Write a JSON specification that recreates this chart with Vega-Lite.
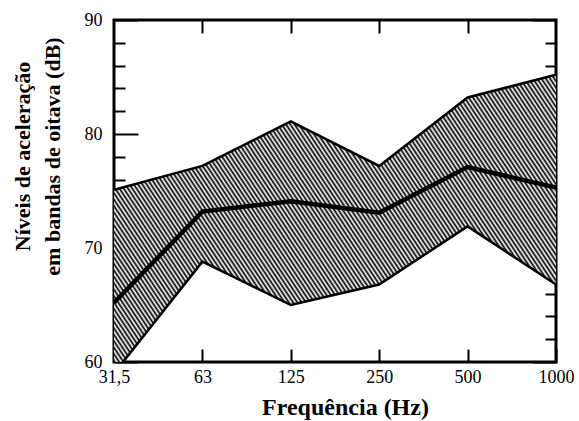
{
  "$schema": "https://vega.github.io/schema/vega-lite/v6.json",
  "width": 442,
  "height": 342,
  "autosize": "none",
  "padding": {"left": 114, "top": 20, "right": 23, "bottom": 59},
  "background": "white",
  "config": {
    "view": {"stroke": "black", "strokeWidth": 3},
    "axis": {"grid": false, "domain": false, "tickColor": "black", "tickWidth": 2, "labelColor": "black", "labelFont": "Liberation Serif", "labelFontSize": 18, "titleColor": "black", "titleFont": "Liberation Serif", "titleFontWeight": "bold"}
  },
  "data": {
    "values": [
      {"f": "31,5", "lo": 59, "mean": 65.2, "hi": 75.1},
      {"f": "63", "lo": 68.8, "mean": 73.2, "hi": 77.2},
      {"f": "125", "lo": 65.0, "mean": 74.1, "hi": 81.1},
      {"f": "250", "lo": 66.8, "mean": 73.1, "hi": 77.2},
      {"f": "500", "lo": 71.9, "mean": 77.1, "hi": 83.2},
      {"f": "1000", "lo": 66.8, "mean": 75.3, "hi": 85.2}
    ]
  },
  "resolve": {"axis": {"x": "independent", "y": "independent"}},
  "layer": [
    {
      "mark": {
        "type": "area",
        "clip": true,
        "stroke": null,
        "fill": {
          "gradient": "linear", "x1": 0, "y1": 1, "x2": 1.206, "y2": 0.46,
          "stops": [
{"offset":0,"color":"#000"},{"offset":0.0033,"color":"#fff"},{"offset":0.0067,"color":"#000"},
{"offset":0.01,"color":"#fff"},{"offset":0.0133,"color":"#000"},{"offset":0.0167,"color":"#fff"},
{"offset":0.02,"color":"#000"},{"offset":0.0233,"color":"#fff"},{"offset":0.0267,"color":"#000"},
{"offset":0.03,"color":"#fff"},{"offset":0.0333,"color":"#000"},{"offset":0.0367,"color":"#fff"},
{"offset":0.04,"color":"#000"},{"offset":0.0433,"color":"#fff"},{"offset":0.0467,"color":"#000"},
{"offset":0.05,"color":"#fff"},{"offset":0.0533,"color":"#000"},{"offset":0.0567,"color":"#fff"},
{"offset":0.06,"color":"#000"},{"offset":0.0633,"color":"#fff"},{"offset":0.0667,"color":"#000"},
{"offset":0.07,"color":"#fff"},{"offset":0.0733,"color":"#000"},{"offset":0.0767,"color":"#fff"},
{"offset":0.08,"color":"#000"},{"offset":0.0833,"color":"#fff"},{"offset":0.0867,"color":"#000"},
{"offset":0.09,"color":"#fff"},{"offset":0.0933,"color":"#000"},{"offset":0.0967,"color":"#fff"},
{"offset":0.10,"color":"#000"},{"offset":0.1033,"color":"#fff"},{"offset":0.1067,"color":"#000"},
{"offset":0.11,"color":"#fff"},{"offset":0.1133,"color":"#000"},{"offset":0.1167,"color":"#fff"},
{"offset":0.12,"color":"#000"},{"offset":0.1233,"color":"#fff"},{"offset":0.1267,"color":"#000"},
{"offset":0.13,"color":"#fff"},{"offset":0.1333,"color":"#000"},{"offset":0.1367,"color":"#fff"},
{"offset":0.14,"color":"#000"},{"offset":0.1433,"color":"#fff"},{"offset":0.1467,"color":"#000"},
{"offset":0.15,"color":"#fff"},{"offset":0.1533,"color":"#000"},{"offset":0.1567,"color":"#fff"},
{"offset":0.16,"color":"#000"},{"offset":0.1633,"color":"#fff"},{"offset":0.1667,"color":"#000"},
{"offset":0.17,"color":"#fff"},{"offset":0.1733,"color":"#000"},{"offset":0.1767,"color":"#fff"},
{"offset":0.18,"color":"#000"},{"offset":0.1833,"color":"#fff"},{"offset":0.1867,"color":"#000"},
{"offset":0.19,"color":"#fff"},{"offset":0.1933,"color":"#000"},{"offset":0.1967,"color":"#fff"},
{"offset":0.20,"color":"#000"},{"offset":0.2033,"color":"#fff"},{"offset":0.2067,"color":"#000"},
{"offset":0.21,"color":"#fff"},{"offset":0.2133,"color":"#000"},{"offset":0.2167,"color":"#fff"},
{"offset":0.22,"color":"#000"},{"offset":0.2233,"color":"#fff"},{"offset":0.2267,"color":"#000"},
{"offset":0.23,"color":"#fff"},{"offset":0.2333,"color":"#000"},{"offset":0.2367,"color":"#fff"},
{"offset":0.24,"color":"#000"},{"offset":0.2433,"color":"#fff"},{"offset":0.2467,"color":"#000"},
{"offset":0.25,"color":"#fff"},{"offset":0.2533,"color":"#000"},{"offset":0.2567,"color":"#fff"},
{"offset":0.26,"color":"#000"},{"offset":0.2633,"color":"#fff"},{"offset":0.2667,"color":"#000"},
{"offset":0.27,"color":"#fff"},{"offset":0.2733,"color":"#000"},{"offset":0.2767,"color":"#fff"},
{"offset":0.28,"color":"#000"},{"offset":0.2833,"color":"#fff"},{"offset":0.2867,"color":"#000"},
{"offset":0.29,"color":"#fff"},{"offset":0.2933,"color":"#000"},{"offset":0.2967,"color":"#fff"},
{"offset":0.30,"color":"#000"},{"offset":0.3033,"color":"#fff"},{"offset":0.3067,"color":"#000"},
{"offset":0.31,"color":"#fff"},{"offset":0.3133,"color":"#000"},{"offset":0.3167,"color":"#fff"},
{"offset":0.32,"color":"#000"},{"offset":0.3233,"color":"#fff"},{"offset":0.3267,"color":"#000"},
{"offset":0.33,"color":"#fff"},{"offset":0.3333,"color":"#000"},{"offset":0.3367,"color":"#fff"},
{"offset":0.34,"color":"#000"},{"offset":0.3433,"color":"#fff"},{"offset":0.3467,"color":"#000"},
{"offset":0.35,"color":"#fff"},{"offset":0.3533,"color":"#000"},{"offset":0.3567,"color":"#fff"},
{"offset":0.36,"color":"#000"},{"offset":0.3633,"color":"#fff"},{"offset":0.3667,"color":"#000"},
{"offset":0.37,"color":"#fff"},{"offset":0.3733,"color":"#000"},{"offset":0.3767,"color":"#fff"},
{"offset":0.38,"color":"#000"},{"offset":0.3833,"color":"#fff"},{"offset":0.3867,"color":"#000"},
{"offset":0.39,"color":"#fff"},{"offset":0.3933,"color":"#000"},{"offset":0.3967,"color":"#fff"},
{"offset":0.40,"color":"#000"},{"offset":0.4033,"color":"#fff"},{"offset":0.4067,"color":"#000"},
{"offset":0.41,"color":"#fff"},{"offset":0.4133,"color":"#000"},{"offset":0.4167,"color":"#fff"},
{"offset":0.42,"color":"#000"},{"offset":0.4233,"color":"#fff"},{"offset":0.4267,"color":"#000"},
{"offset":0.43,"color":"#fff"},{"offset":0.4333,"color":"#000"},{"offset":0.4367,"color":"#fff"},
{"offset":0.44,"color":"#000"},{"offset":0.4433,"color":"#fff"},{"offset":0.4467,"color":"#000"},
{"offset":0.45,"color":"#fff"},{"offset":0.4533,"color":"#000"},{"offset":0.4567,"color":"#fff"},
{"offset":0.46,"color":"#000"},{"offset":0.4633,"color":"#fff"},{"offset":0.4667,"color":"#000"},
{"offset":0.47,"color":"#fff"},{"offset":0.4733,"color":"#000"},{"offset":0.4767,"color":"#fff"},
{"offset":0.48,"color":"#000"},{"offset":0.4833,"color":"#fff"},{"offset":0.4867,"color":"#000"},
{"offset":0.49,"color":"#fff"},{"offset":0.4933,"color":"#000"},{"offset":0.4967,"color":"#fff"},
{"offset":0.50,"color":"#000"},{"offset":0.5033,"color":"#fff"},{"offset":0.5067,"color":"#000"},
{"offset":0.51,"color":"#fff"},{"offset":0.5133,"color":"#000"},{"offset":0.5167,"color":"#fff"},
{"offset":0.52,"color":"#000"},{"offset":0.5233,"color":"#fff"},{"offset":0.5267,"color":"#000"},
{"offset":0.53,"color":"#fff"},{"offset":0.5333,"color":"#000"},{"offset":0.5367,"color":"#fff"},
{"offset":0.54,"color":"#000"},{"offset":0.5433,"color":"#fff"},{"offset":0.5467,"color":"#000"},
{"offset":0.55,"color":"#fff"},{"offset":0.5533,"color":"#000"},{"offset":0.5567,"color":"#fff"},
{"offset":0.56,"color":"#000"},{"offset":0.5633,"color":"#fff"},{"offset":0.5667,"color":"#000"},
{"offset":0.57,"color":"#fff"},{"offset":0.5733,"color":"#000"},{"offset":0.5767,"color":"#fff"},
{"offset":0.58,"color":"#000"},{"offset":0.5833,"color":"#fff"},{"offset":0.5867,"color":"#000"},
{"offset":0.59,"color":"#fff"},{"offset":0.5933,"color":"#000"},{"offset":0.5967,"color":"#fff"},
{"offset":0.60,"color":"#000"},{"offset":0.6033,"color":"#fff"},{"offset":0.6067,"color":"#000"},
{"offset":0.61,"color":"#fff"},{"offset":0.6133,"color":"#000"},{"offset":0.6167,"color":"#fff"},
{"offset":0.62,"color":"#000"},{"offset":0.6233,"color":"#fff"},{"offset":0.6267,"color":"#000"},
{"offset":0.63,"color":"#fff"},{"offset":0.6333,"color":"#000"},{"offset":0.6367,"color":"#fff"},
{"offset":0.64,"color":"#000"},{"offset":0.6433,"color":"#fff"},{"offset":0.6467,"color":"#000"},
{"offset":0.65,"color":"#fff"},{"offset":0.6533,"color":"#000"},{"offset":0.6567,"color":"#fff"},
{"offset":0.66,"color":"#000"},{"offset":0.6633,"color":"#fff"},{"offset":0.6667,"color":"#000"},
{"offset":0.67,"color":"#fff"},{"offset":0.6733,"color":"#000"},{"offset":0.6767,"color":"#fff"},
{"offset":0.68,"color":"#000"},{"offset":0.6833,"color":"#fff"},{"offset":0.6867,"color":"#000"},
{"offset":0.69,"color":"#fff"},{"offset":0.6933,"color":"#000"},{"offset":0.6967,"color":"#fff"},
{"offset":0.70,"color":"#000"},{"offset":0.7033,"color":"#fff"},{"offset":0.7067,"color":"#000"},
{"offset":0.71,"color":"#fff"},{"offset":0.7133,"color":"#000"},{"offset":0.7167,"color":"#fff"},
{"offset":0.72,"color":"#000"},{"offset":0.7233,"color":"#fff"},{"offset":0.7267,"color":"#000"},
{"offset":0.73,"color":"#fff"},{"offset":0.7333,"color":"#000"},{"offset":0.7367,"color":"#fff"},
{"offset":0.74,"color":"#000"},{"offset":0.7433,"color":"#fff"},{"offset":0.7467,"color":"#000"},
{"offset":0.75,"color":"#fff"},{"offset":0.7533,"color":"#000"},{"offset":0.7567,"color":"#fff"},
{"offset":0.76,"color":"#000"},{"offset":0.7633,"color":"#fff"},{"offset":0.7667,"color":"#000"},
{"offset":0.77,"color":"#fff"},{"offset":0.7733,"color":"#000"},{"offset":0.7767,"color":"#fff"},
{"offset":0.78,"color":"#000"},{"offset":0.7833,"color":"#fff"},{"offset":0.7867,"color":"#000"},
{"offset":0.79,"color":"#fff"},{"offset":0.7933,"color":"#000"},{"offset":0.7967,"color":"#fff"},
{"offset":0.80,"color":"#000"},{"offset":0.8033,"color":"#fff"},{"offset":0.8067,"color":"#000"},
{"offset":0.81,"color":"#fff"},{"offset":0.8133,"color":"#000"},{"offset":0.8167,"color":"#fff"},
{"offset":0.82,"color":"#000"},{"offset":0.8233,"color":"#fff"},{"offset":0.8267,"color":"#000"},
{"offset":0.83,"color":"#fff"},{"offset":0.8333,"color":"#000"},{"offset":0.8367,"color":"#fff"},
{"offset":0.84,"color":"#000"},{"offset":0.8433,"color":"#fff"},{"offset":0.8467,"color":"#000"},
{"offset":0.85,"color":"#fff"},{"offset":0.8533,"color":"#000"},{"offset":0.8567,"color":"#fff"},
{"offset":0.86,"color":"#000"},{"offset":0.8633,"color":"#fff"},{"offset":0.8667,"color":"#000"},
{"offset":0.87,"color":"#fff"},{"offset":0.8733,"color":"#000"},{"offset":0.8767,"color":"#fff"},
{"offset":0.88,"color":"#000"},{"offset":0.8833,"color":"#fff"},{"offset":0.8867,"color":"#000"},
{"offset":0.89,"color":"#fff"},{"offset":0.8933,"color":"#000"},{"offset":0.8967,"color":"#fff"},
{"offset":0.90,"color":"#000"},{"offset":0.9033,"color":"#fff"},{"offset":0.9067,"color":"#000"},
{"offset":0.91,"color":"#fff"},{"offset":0.9133,"color":"#000"},{"offset":0.9167,"color":"#fff"},
{"offset":0.92,"color":"#000"},{"offset":0.9233,"color":"#fff"},{"offset":0.9267,"color":"#000"},
{"offset":0.93,"color":"#fff"},{"offset":0.9333,"color":"#000"},{"offset":0.9367,"color":"#fff"},
{"offset":0.94,"color":"#000"},{"offset":0.9433,"color":"#fff"},{"offset":0.9467,"color":"#000"},
{"offset":0.95,"color":"#fff"},{"offset":0.9533,"color":"#000"},{"offset":0.9567,"color":"#fff"},
{"offset":0.96,"color":"#000"},{"offset":0.9633,"color":"#fff"},{"offset":0.9667,"color":"#000"},
{"offset":0.97,"color":"#fff"},{"offset":0.9733,"color":"#000"},{"offset":0.9767,"color":"#fff"},
{"offset":0.98,"color":"#000"},{"offset":0.9833,"color":"#fff"},{"offset":0.9867,"color":"#000"},
{"offset":0.99,"color":"#fff"},{"offset":0.9933,"color":"#000"},{"offset":0.9967,"color":"#fff"},
{"offset":1,"color":"#000"}
          ]
        }
      },
      "encoding": {
        "x": {"field": "f", "type": "ordinal", "sort": null, "scale": {"type": "point", "padding": 0},
              "axis": {"orient": "bottom", "labelAngle": 0, "tickSize": -13, "labelPadding": 19, "title": "Frequência (Hz)", "titleFontSize": 24, "titleAlign": "center", "titleBaseline": "alphabetic", "titleX": 231, "titleY": 52}},
        "y": {"field": "hi", "type": "quantitative", "scale": {"domain": [60, 90], "nice": false, "zero": false},
              "axis": {"orient": "left", "values": [60,62,64,66,68,70,72,74,76,78,80,82,84,86,88,90], "labelExpr": "datum.value % 10 === 0 ? datum.label : ''", "tickSize": {"condition": {"test": "datum.value % 10 === 0", "value": -24}, "value": -11}, "labelPadding": 36, "title": ["Níveis de aceleração", "em bandas de oitava (dB)"], "titleFontSize": 22, "titleLineHeight": 30, "titleAngle": -90, "titleAlign": "center", "titleBaseline": "bottom", "titleX": -80, "titleY": 136}},
        "y2": {"field": "lo"}
      }
    },
    {
      "mark": {"type": "line", "color": "black", "strokeWidth": 2.5, "clip": true},
      "encoding": {
        "x": {"field": "f", "type": "ordinal", "sort": null, "axis": {"orient": "top", "labels": false, "values": ["63", "125", "250", "500"], "tickSize": -13, "title": null}},
        "y": {"field": "hi", "type": "quantitative", "axis": {"orient": "right", "labels": false, "values": [60,62,64,66,68,70,72,74,76,78,80,82,84,86,88,90], "tickSize": {"condition": {"test": "datum.value % 10 === 0", "value": -24}, "value": -11}, "title": null}}
      }
    },
    {
      "mark": {"type": "line", "color": "black", "strokeWidth": 2.5, "clip": true},
      "encoding": {
        "x": {"field": "f", "type": "ordinal", "sort": null, "axis": null},
        "y": {"field": "lo", "type": "quantitative", "axis": null}
      }
    },
    {
      "mark": {"type": "line", "color": "black", "strokeWidth": 4.5, "clip": true},
      "encoding": {
        "x": {"field": "f", "type": "ordinal", "sort": null, "axis": null},
        "y": {"field": "mean", "type": "quantitative", "axis": null}
      }
    }
  ]
}
